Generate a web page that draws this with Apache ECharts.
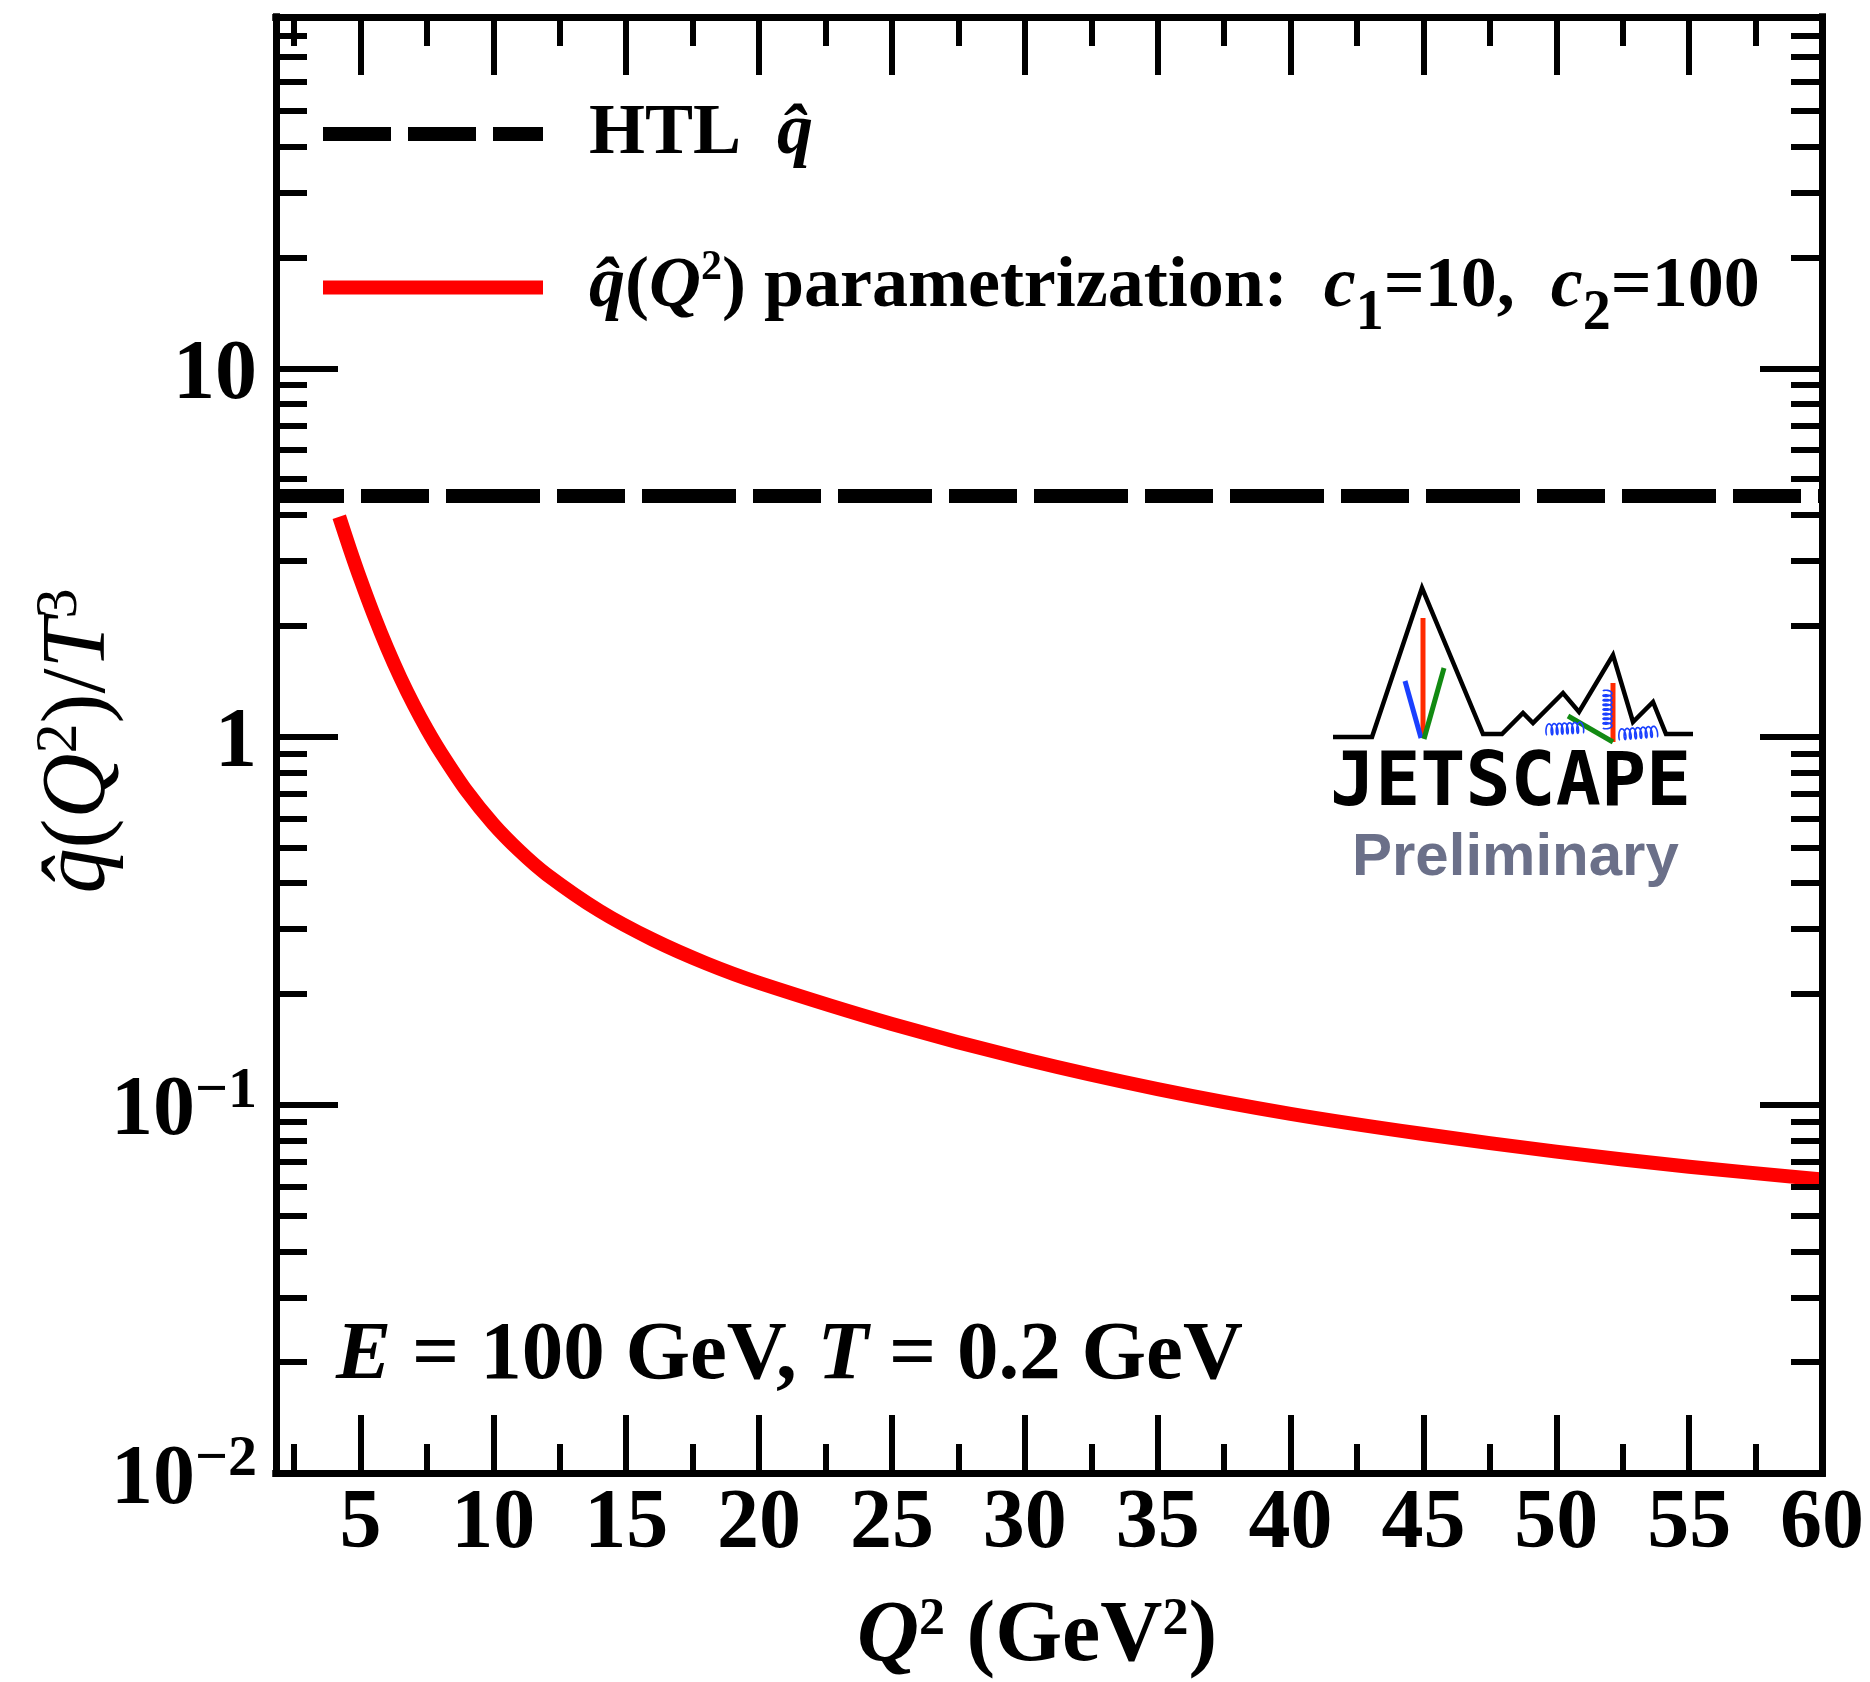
<!DOCTYPE html>
<html><head><meta charset="utf-8">
<script src="https://cdn.jsdelivr.net/npm/echarts@6/dist/echarts.min.js"></script>
<style>html,body{margin:0;padding:0;background:#fff}#c{width:1870px;height:1682px}</style>
</head><body><div id="c"></div>
<script>
// ---------- data ----------
const qSquared  = [4.2, 4.6, 5.0, 5.5, 6.0, 6.5, 7.0, 7.5, 8.0, 9.0, 10, 11, 12, 14, 16, 18, 20, 25, 30, 35, 40, 45, 50, 55, 60];
const qhatParam = [3.954, 3.232, 2.671, 2.138, 1.742, 1.446, 1.221, 1.047, 0.911, 0.7106, 0.5786, 0.4881, 0.4227, 0.3362, 0.2809, 0.2424, 0.2144, 0.1658, 0.1329, 0.1103, 0.0945, 0.0833, 0.0746, 0.0679, 0.0627];
const htlValue = 4.5;
const xRange = [1.82, 60];
const yRange = [0.01, 90];
const xMajorTicks = [5, 10, 15, 20, 25, 30, 35, 40, 45, 50, 55, 60];
const xMinorTicks = [2.5, 7.5, 12.5, 17.5, 22.5, 27.5, 32.5, 37.5, 42.5, 47.5, 52.5, 57.5];
const yMajorTicks = [0.01, 0.1, 1, 10];
const yMinorTicks = [0.02,0.03,0.04,0.05,0.06,0.07,0.08,0.09, 0.2,0.3,0.4,0.5,0.6,0.7,0.8,0.9, 2,3,4,5,6,7,8,9, 20,30,40,50,60,70,80,90];
const legendNames = ['HTL', 'param'];

// ---------- styling ----------
const SERIF = "'Liberation Serif','Times New Roman',serif";
const chart = echarts.init(document.getElementById('c'), null, {renderer: 'canvas'});

function mkAxis(kind, pos, ticks, len, labels) {
  const ax = {
    type: kind === 'x' ? 'value' : 'log',
    position: pos,
    min: kind === 'x' ? xRange[0] : yRange[0],
    max: kind === 'x' ? xRange[1] : yRange[1],
    z: 10,
    axisLine: {show: true, onZero: false, lineStyle: {color: '#000', width: 7, cap: 'square'}},
    axisTick: {show: true, inside: true, length: len, customValues: ticks, lineStyle: {color: '#000', width: 6}},
    splitLine: {show: false},
    minorTick: {show: false},
    minorSplitLine: {show: false},
    axisLabel: {show: false}
  };
  if (kind === 'y') ax.logBase = 10;
  if (labels && kind === 'x') {
    ax.axisLabel = {show: true, customValues: ticks, margin: 10, color: '#000',
      fontFamily: SERIF, fontWeight: 'bold', fontSize: 84, lineHeight: 84};
  }
  if (labels && kind === 'y') {
    ax.axisLabel = {show: true, customValues: ticks, margin: 19, color: '#000',
      formatter: function (v) {
        const e = Math.round(Math.log10(v));
        if (e === 0) return '{m|1}';
        if (e === 1) return '{m|10}';
        return '{m|10}{s|\u2212' + (-e) + '}';
      },
      rich: {
        m: {fontFamily: SERIF, fontWeight: 'bold', fontSize: 84, lineHeight: 84, padding: [16, 0, 0, 0], color: '#000'},
        s: {fontFamily: SERIF, fontWeight: 'bold', fontSize: 58, lineHeight: 67, verticalAlign: 'top', color: '#000'}
      }};
  }
  return ax;
}

function coil(x0, y0, x1, y1, n, h) {
  const L = Math.hypot(x1 - x0, y1 - y0), ux = (x1 - x0) / L, uy = (y1 - y0) / L;
  const px = uy, py = -ux;
  const a = L / (2 * Math.PI * n), c = a * 2.4;
  const pts = [];
  const N = n * 24;
  for (let k = 0; k <= N; k++) {
    const th = 2 * Math.PI * n * k / N;
    const s = a * th - c * Math.sin(th);
    const p = h * (1 - Math.cos(th)) / 2;
    pts.push([x0 + ux * s + px * p, y0 + uy * s + py * p]);
  }
  return {type: 'polyline', shape: {points: pts}, style: {stroke: '#1a40ff', lineWidth: 1.6, fill: null}, silent: true, z: 100};
}
function seg(points, color, w) {
  return {type: 'polyline', shape: {points: points}, style: {stroke: color, lineWidth: w, fill: null, lineJoin: 'miter'}, silent: true, z: 100};
}

const richTitle = (size, weight) => ({
  b: {fontFamily: SERIF, fontWeight: weight, fontSize: size, lineHeight: size, color: '#000'},
  qi: {fontFamily: SERIF, fontWeight: weight, fontStyle: 'italic', fontSize: size, lineHeight: size, color: '#000'}
});

const xTitleRich = Object.assign(richTitle(86, 'bold'), {
  sup: {fontFamily: SERIF, fontWeight: 'bold', fontSize: 52, lineHeight: 28, verticalAlign: 'top', color: '#000'}
});
const yTitleRich = Object.assign(richTitle(90, 'normal'), {
  sup: {fontFamily: SERIF, fontWeight: 'normal', fontSize: 60, lineHeight: 32, verticalAlign: 'top', color: '#000'}
});
yTitleRich.b.lineHeight = 100; yTitleRich.qi.lineHeight = 100;
const noteRich = {
  b: {fontFamily: SERIF, fontWeight: 'bold', fontSize: 83, color: '#000'},
  i: {fontFamily: SERIF, fontWeight: 'bold', fontStyle: 'italic', fontSize: 83, color: '#000'}
};

const option = {
  animation: false,
  backgroundColor: '#fff',
  grid: {left: 276, right: 48, top: 17, bottom: 209, containLabel: false, outerBoundsMode: 'none'},
  xAxis: [
    mkAxis('x', 'bottom', xMajorTicks, 58, true),
    mkAxis('x', 'bottom', xMinorTicks, 29, false),
    mkAxis('x', 'top', xMajorTicks, 58, false),
    mkAxis('x', 'top', xMinorTicks, 29, false)
  ],
  yAxis: [
    mkAxis('y', 'left', yMajorTicks, 62, true),
    mkAxis('y', 'left', yMinorTicks, 31, false),
    mkAxis('y', 'right', yMajorTicks, 62, false),
    mkAxis('y', 'right', yMinorTicks, 31, false)
  ],
  legend: {
    orient: 'vertical', left: 316, top: 98, padding: 0,
    itemWidth: 220, itemHeight: 14, itemGap: 62,
    selectedMode: false,
    itemStyle: {opacity: 0},
    data: [
      {name: legendNames[0], itemStyle: {opacity: 0}, lineStyle: {type: [68, 17], width: 14, color: '#000', dashOffset: 0}},
      {name: legendNames[1], itemStyle: {opacity: 0}, lineStyle: {width: 14, color: '#ff0000'}}
    ],
    formatter: function (name) {
      if (name === legendNames[0]) return '{b|HTL  }{qi|q\u0302}';
      return '{qi|q\u0302}{b|(}{qi|Q}{sup|2}{b|) parametrization:  }{qi|c}{sub|1}{b|=10,  }{qi|c}{sub|2}{b|=100}';
    },
    textStyle: {
      fontFamily: SERIF, fontSize: 72, fontWeight: 'bold', color: '#000', padding: [0, 0, 0, 41],
      rich: {
        b: {fontFamily: SERIF, fontWeight: 'bold', fontSize: 72, lineHeight: 80, color: '#000'},
        qi: {fontFamily: SERIF, fontWeight: 'bold', fontStyle: 'italic', fontSize: 72, lineHeight: 80, color: '#000'},
        sup: {fontFamily: SERIF, fontWeight: 'bold', fontSize: 42, lineHeight: 20, verticalAlign: 'top', color: '#000'},
        sub: {fontFamily: SERIF, fontWeight: 'bold', fontSize: 56, lineHeight: 25, padding: [55, 0, 0, 0], color: '#000'}
      }
    }
  },
  series: [
    {
      name: legendNames[0], type: 'line', xAxisIndex: 0, yAxisIndex: 0,
      data: xRange.map(x => [x, htlValue]),
      symbol: 'none', silent: true, z: 3,
      itemStyle: {color: '#000'},
      lineStyle: {color: '#000', width: 14, type: [94, 17, 68, 17], dashOffset: 26, cap: 'butt'}
    },
    {
      name: legendNames[1], type: 'line', xAxisIndex: 0, yAxisIndex: 0,
      data: qSquared.map((x, i) => [x, qhatParam[i]]),
      symbol: 'none', silent: true, smooth: 0.3, z: 4,
      itemStyle: {color: '#ff0000'},
      lineStyle: {color: '#ff0000', width: 14, cap: 'butt', join: 'round'}
    }
  ],
  graphic: [
    {type: 'text', x: 1037, y: 1638, silent: true, z: 50,
      style: {text: '{qi|Q}{sup|2}{b| (GeV}{sup|2}{b|)}', rich: xTitleRich, align: 'center', verticalAlign: 'middle'}},
    {type: 'text', x: 80, y: 741, rotation: Math.PI / 2, silent: true, z: 50,
      style: {text: '{qi|q\u0302}{b|(}{qi|Q}{sup|2}{b|)/}{qi|T}{sup|3}', rich: yTitleRich, align: 'center', verticalAlign: 'middle'}},
    {type: 'text', x: 336, y: 1357, silent: true, z: 50,
      style: {text: '{i|E}{b| = 100 GeV, }{i|T}{b| = 0.2 GeV}', rich: noteRich, align: 'left', verticalAlign: 'middle'}},
    // JETSCAPE logo
    seg([[1333,737],[1372,737],[1422,588],[1483,734],[1502,734],[1523,713],[1533,723],[1563,693],[1579,712],[1613,655],[1633,722],[1653,702],[1666,734],[1693,734]], '#000', 4.5),
    seg([[1423,618],[1423,738]], '#ff2a00', 5),
    seg([[1405,681],[1421,738]], '#1a40ff', 5),
    seg([[1444,668],[1424,739]], '#128a12', 5),
    seg([[1613,683],[1613,742]], '#ff2a00', 5),
    seg([[1568,716],[1613,742]], '#128a12', 5),
    coil(1547, 735, 1583, 733, 7, 11),
    coil(1603, 691, 1603, 728, 8, 9),
    coil(1620, 740, 1657, 737, 7, 11),
    {type: 'text', x: 1330, y: 786, silent: true, z: 100,
      style: {text: 'JETSCAPE', font: "bold 75px 'DejaVu Sans Mono', monospace", fill: '#000', align: 'left', verticalAlign: 'middle'}},
    {type: 'text', x: 1352, y: 858, silent: true, z: 100,
      style: {text: 'Preliminary', font: "bold 60px 'Liberation Sans', Arial, sans-serif", fill: '#6b7089', align: 'left', verticalAlign: 'middle'}}
  ]
};
chart.setOption(option);
</script>
</body></html>
